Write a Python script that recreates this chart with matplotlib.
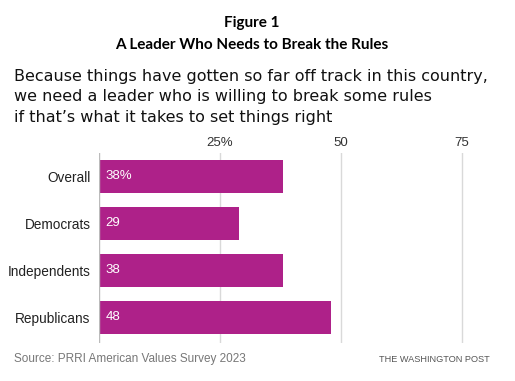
import matplotlib.pyplot as plt

# ── Data ─────────────────────────────────────────────────────
groups = ['Overall', 'Democrats', 'Independents', 'Republicans']
values = [38, 29, 38, 48]
labels = ['38%', '29', '38', '48']
ticks = [25, 50, 75]
tick_labels = ['25%', '50', '75']

BAR = '#AE2189'
GRID = '#D9D9D9'

fig = plt.figure(figsize=(5.15, 3.81), dpi=100)
fig.patch.set_facecolor('white')

W, H = 515, 381
# axes box in pixels: left 99, top 153, bottom 343
ax = fig.add_axes([99 / W, 1 - 343 / H, (486 - 99) / W, (343 - 153) / H])

y = range(len(groups))
ax.barh(y, values, color=BAR, height=0.7, zorder=3)
ax.set_ylim(len(groups) - 0.45, -0.5)
ax.set_xlim(0, 80)

for i, (v, lab) in enumerate(zip(values, labels)):
    ax.text(1.3, i, lab, va='center', ha='left', color='white',
            fontsize=9.5, family='Liberation Sans', zorder=4)

for t in ticks:
    ax.axvline(t, color=GRID, lw=1, zorder=1)
ax.axvline(0, color='#BBBBBB', lw=1, zorder=5)

ax.set_xticks(ticks)
ax.set_xticklabels(tick_labels, fontsize=9.5, color='#333333', family='Liberation Sans')
ax.xaxis.tick_top()
ax.tick_params(axis='x', length=0, pad=3)
ax.set_yticks(list(y))
ax.set_yticklabels(groups, fontsize=9.8, color='#222222', family='Liberation Sans')
ax.tick_params(axis='y', length=0, pad=6)
for s in ax.spines.values():
    s.set_visible(False)

# ── Titles ──────────────────────────────────────────────────
cx = 251.5 / W
fig.text(cx, 1 - 23 / H, 'Figure 1', ha='center', va='center',
         fontsize=11, fontweight='bold', family='Lato', color='black')
fig.text(cx, 1 - 45 / H, 'A Leader Who Needs to Break the Rules', ha='center', va='center',
         fontsize=11, fontweight='bold', family='Lato', color='black')
sub = ('Because things have gotten so far off track in this country,\n'
       'we need a leader who is willing to break some rules\n'
       "if that\u2019s what it takes to set things right")
fig.text(14 / W, 1 - 69 / H, sub, ha='left', va='top', fontsize=11.5,
         family='DejaVu Sans', color='#111111', linespacing=1.45)

fig.text(14 / W, 1 - 359 / H, 'Source: PRRI American Values Survey 2023', ha='left', va='center',
         fontsize=8.5, family='Liberation Sans', color='#777777')
fig.text(490 / W, 1 - 360 / H, 'THE WASHINGTON POST', ha='right', va='center',
         fontsize=6.6, family='Liberation Sans', color='#555555')

plt.savefig('out.png', dpi=100, facecolor='white')
